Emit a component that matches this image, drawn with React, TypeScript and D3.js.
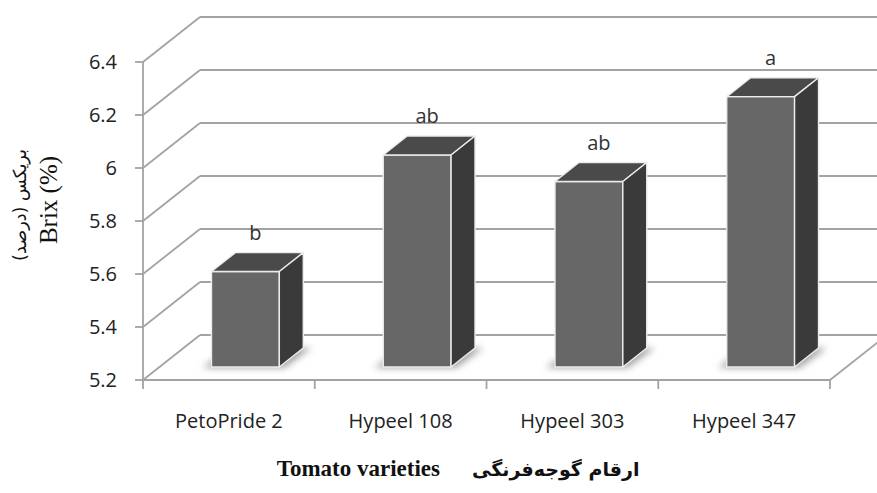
import React, { useEffect, useRef } from 'react';
import * as d3 from 'd3';

const categories = ['PetoPride 2', 'Hypeel 108', 'Hypeel 303', 'Hypeel 347'];
const brixValues = [5.56, 6.0, 5.9, 6.22];
const groupLetters = ['b', 'ab', 'ab', 'a'];
const yTicks = [5.2, 5.4, 5.6, 5.8, 6.0, 6.2, 6.4];

const BrixChart = () => {
  const svgRef = useRef(null);

  useEffect(() => {
    const width = 877;
    const height = 493;
    // front plane of the 3D box
    const x0 = 143;
    const x1 = 830;
    const depthX = 57;
    const depthY = -45;
    const barFront = 0.29;
    const barBack = 0.71;
    const gridColor = '#a3a3a3';

    d3.select(svgRef.current).selectAll('*').remove();

    const svg = d3.select(svgRef.current)
      .attr('width', width)
      .attr('height', height);

    const defs = svg.append('defs');
    defs.append('filter')
      .attr('id', 'shadowBlur')
      .attr('x', '-50%').attr('y', '-50%')
      .attr('width', '200%').attr('height', '200%')
      .append('feGaussianBlur')
      .attr('stdDeviation', 3.5);

    const xScale = d3.scaleBand()
      .domain(categories)
      .range([x0, x1])
      .padding(0);

    const yScale = d3.scaleLinear()
      .domain([5.2, 6.4])
      .range([380, 62]);

    const yBase = yScale(5.2);

    // back wall + left wall gridlines
    const grid = svg.append('g')
      .attr('stroke', gridColor)
      .attr('stroke-width', 1.8)
      .attr('fill', 'none');

    yTicks.forEach(t => {
      const y = yScale(t);
      grid.append('line')
        .attr('x1', x0).attr('y1', y)
        .attr('x2', x0 + depthX).attr('y2', y + depthY);
      grid.append('line')
        .attr('x1', x0 + depthX).attr('y1', y + depthY)
        .attr('x2', x1 + depthX).attr('y2', y + depthY);
    });

    // floor: front axis and right edge
    grid.append('line')
      .attr('x1', x0).attr('y1', yBase)
      .attr('x2', x1).attr('y2', yBase);
    grid.append('line')
      .attr('x1', x1).attr('y1', yBase)
      .attr('x2', x1 + depthX).attr('y2', yBase + depthY);

    // y axis line and ticks
    grid.append('line')
      .attr('x1', x0).attr('y1', yScale(6.4))
      .attr('x2', x0).attr('y2', yBase);
    yTicks.forEach(t => {
      grid.append('line')
        .attr('x1', x0 - 8).attr('y1', yScale(t))
        .attr('x2', x0).attr('y2', yScale(t));
    });

    // x axis tick marks at band edges
    const edges = categories.map(c => xScale(c)!).concat([x1]);
    edges.forEach(ex => {
      grid.append('line')
        .attr('x1', ex).attr('y1', yBase)
        .attr('x2', ex).attr('y2', yBase + 9);
    });

    // y tick labels
    svg.append('g')
      .selectAll('text')
      .data(yTicks)
      .join('text')
      .attr('x', 117)
      .attr('y', d => yScale(d))
      .attr('dy', '0.36em')
      .attr('text-anchor', 'end')
      .style('font-family', 'Open Sans, sans-serif')
      .style('font-size', '20px')
      .attr('fill', '#222')
      .text(d => d3.format('~g')(d));

    // x tick labels
    svg.append('g')
      .selectAll('text')
      .data(categories)
      .join('text')
      .attr('x', d => xScale(d)! + xScale.bandwidth() / 2)
      .attr('y', 428)
      .attr('text-anchor', 'middle')
      .style('font-family', 'Open Sans, sans-serif')
      .style('font-size', '20px')
      .attr('fill', '#222')
      .text(d => d);

    // bars
    const barW = xScale.bandwidth() * 0.395;
    const pt = (x: number, y: number, f: number) => [x + f * depthX, y + f * depthY];

    categories.forEach((c, i) => {
      const v = brixValues[i];
      const left = xScale(c)! + (xScale.bandwidth() - barW) / 2;
      const right = left + barW;
      const yTop = yScale(v);

      const poly = (pts: number[][]) => pts.map(p => p.join(',')).join(' ');

      // soft shadow on the floor
      svg.append('polygon')
        .attr('points', poly([
          pt(left - 8, yBase, barFront - 0.02),
          pt(right + 6, yBase, barFront - 0.02),
          pt(right + 8, yBase, barBack),
          pt(left - 4, yBase, barBack)
        ]))
        .attr('fill', '#555')
        .attr('opacity', 0.55)
        .attr('filter', 'url(#shadowBlur)');

      const g = svg.append('g')
        .attr('stroke', '#ececec')
        .attr('stroke-width', 1.4)
        .attr('stroke-linejoin', 'round');

      // front face
      g.append('polygon')
        .attr('points', poly([
          pt(left, yTop, barFront),
          pt(right, yTop, barFront),
          pt(right, yBase, barFront),
          pt(left, yBase, barFront)
        ]))
        .attr('fill', '#676767');

      // top face
      g.append('polygon')
        .attr('points', poly([
          pt(left, yTop, barFront),
          pt(right, yTop, barFront),
          pt(right, yTop, barBack),
          pt(left, yTop, barBack)
        ]))
        .attr('fill', '#4a4a4a');

      // side face
      g.append('polygon')
        .attr('points', poly([
          pt(right, yTop, barFront),
          pt(right, yTop, barBack),
          pt(right, yBase, barBack),
          pt(right, yBase, barFront)
        ]))
        .attr('fill', '#3a3a3a');

      // significance letter
      const [lx] = pt((left + right) / 2, yTop, barFront);
      const [, ly] = pt(left, yTop, barBack);
      svg.append('text')
        .attr('x', lx + 10)
        .attr('y', ly - 13)
        .attr('text-anchor', 'middle')
        .style('font-family', 'Open Sans, sans-serif')
        .style('font-size', '20px')
        .attr('fill', '#333')
        .text(groupLetters[i]);
    });

    // y axis titles
    svg.append('text')
      .attr('transform', 'translate(48,200) rotate(-90)')
      .attr('text-anchor', 'middle')
      .attr('dy', '0.35em')
      .style('font-family', 'Liberation Serif, serif')
      .style('font-size', '25px')
      .attr('fill', '#111')
      .text('Brix (%)');

    svg.append('text')
      .attr('transform', 'translate(20,205) rotate(-90)')
      .attr('text-anchor', 'middle')
      .attr('dy', '0.35em')
      .attr('direction', 'rtl')
      .attr('textLength', 112)
      .attr('lengthAdjust', 'spacingAndGlyphs')
      .style('font-family', 'DejaVu Sans, serif')
      .style('font-size', '18px')
      .attr('fill', '#111')
      .text('بریکس (درصد)');

    // x axis titles
    svg.append('text')
      .attr('x', 440)
      .attr('y', 476)
      .attr('text-anchor', 'end')
      .style('font-family', 'Liberation Serif, serif')
      .style('font-size', '23px')
      .style('font-weight', 'bold')
      .attr('fill', '#111')
      .text('Tomato varieties');

    svg.append('text')
      .attr('x', 472)
      .attr('y', 476)
      .attr('text-anchor', 'start')
      .style('font-family', 'DejaVu Sans, serif')
      .style('font-size', '19px')
      .style('font-weight', 'bold')
      .attr('fill', '#111')
      .text('ارقام گوجه‌فرنگی');
  }, []);

  return (
    <svg ref={svgRef} style={{ position: 'absolute', left: 0, top: 0, background: '#fff' }}></svg>
  );
};

export default function App() {
  return <BrixChart />;
}
